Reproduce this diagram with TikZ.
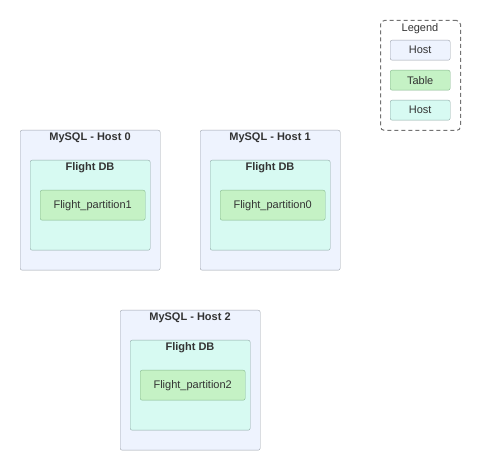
\documentclass[tikz,border=0pt]{standalone}
\usepackage{fontspec}
\setmainfont{Liberation Sans}
\usetikzlibrary{positioning}
\definecolor{hostfill}{HTML}{EEF3FE}
\definecolor{hostline}{HTML}{9CA2AC}
\definecolor{dbfill}{HTML}{D7FAF2}
\definecolor{dbline}{HTML}{8EAAA6}
\definecolor{tblfill}{HTML}{C5F2C5}
\definecolor{tblline}{HTML}{85B88D}
\definecolor{txt}{HTML}{333333}
\begin{document}
\begin{tikzpicture}[x=1pt,y=-1pt,
    every node/.style={font=\fontsize{11}{13}\selectfont, text=txt},
    host/.style={draw=hostline, fill=hostfill, rounded corners=2pt, minimum width=140pt, minimum height=140pt, anchor=north west},
    db/.style={draw=dbline, fill=dbfill, rounded corners=2pt, minimum width=120pt, minimum height=90pt, anchor=north west},
    tbl/.style={draw=tblline, fill=tblfill, rounded corners=2pt, minimum width=105pt, minimum height=30pt, anchor=north west},
    title/.style={font=\fontsize{11}{13}\selectfont\bfseries}]
    \useasboundingbox (0,0) rectangle (480,470);

    % legend
    \node[draw=gray!90!black, line width=1pt, dash pattern=on 4pt off 3pt, rounded corners=4pt, minimum width=80pt, minimum height=110pt, anchor=north west] (legend) at (380,20) {};
    \node (legendtitle) at (420,29) {Legend};
    \node[host, minimum width=60pt, minimum height=20pt] (lhost) at (390,40) {Host};
    \node[tbl, minimum width=60pt, minimum height=20pt] (ltable) at (390,70) {Table};
    \node[db, minimum width=60pt, minimum height=20pt] (ldb) at (390,100) {Host};

    % host 0
    \node[host] (host0) at (20,130) {};
    \node[title] (host0title) at (90,138) {MySQL - Host 0};
    \node[db] (db0) at (30,160) {};
    \node[title] (db0title) at (90,168) {Flight DB};
    \node[tbl] (part1) at (40,190) {Flight\_partition1};

    % host 1
    \node[host] (host1) at (200,130) {};
    \node[title] (host1title) at (270,138) {MySQL - Host 1};
    \node[db] (db1) at (210,160) {};
    \node[title] (db1title) at (270,168) {Flight DB};
    \node[tbl] (part0) at (220,190) {Flight\_partition0};

    % host 2
    \node[host] (host2) at (120,310) {};
    \node[title] (host2title) at (190,318) {MySQL - Host 2};
    \node[db] (db2) at (130,340) {};
    \node[title] (db2title) at (190,348) {Flight DB};
    \node[tbl] (part2) at (140,370) {Flight\_partition2};
\end{tikzpicture}
\end{document}
